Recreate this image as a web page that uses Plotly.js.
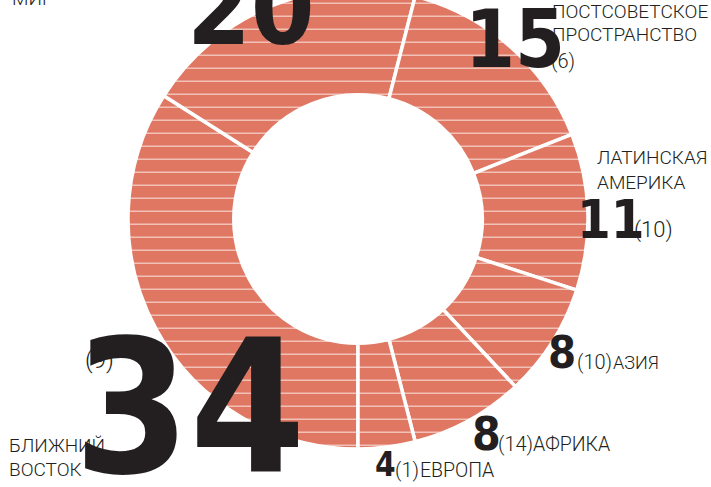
<!DOCTYPE html>
<html><head><meta charset="utf-8">
<script src="https://cdn.plot.ly/plotly-3.0.1.min.js"></script>
<style>
html,body{margin:0;padding:0;overflow:hidden;background:#fff;width:711px;height:487px;position:relative}
#chart{position:absolute;left:0;top:-11px;width:711px;height:498px}
</style>
</head><body><div id="chart"></div>
<script>
// ---- data ----
const regions = ['БЛИЖНИЙ ВОСТОК', 'МИР', 'ПОСТСОВЕТСКОЕ ПРОСТРАНСТВО', 'ЛАТИНСКАЯ АМЕРИКА', 'АЗИЯ', 'АФРИКА', 'ЕВРОПА'];
const shares = [34, 20, 15, 11, 8, 8, 4];
const previous = [9, null, 6, 10, 10, 14, 1];
const labelLines = [['БЛИЖНИЙ', 'ВОСТОК'], ['МИР'], ['ПОСТСОВЕТСКОЕ', 'ПРОСТРАНСТВО'], ['ЛАТИНСКАЯ', 'АМЕРИКА'], ['АЗИЯ'], ['АФРИКА'], ['ЕВРОПА']];

// ---- layout / placement (reference pixel coords) ----
const W = 711, H = 498, OFF = 11;
const NARROW = '"Liberation Sans Narrow", "DejaVu Sans Condensed", sans-serif';
const LIGHT = 'Roboto, "Noto Sans", sans-serif';
const INK = '#231f20';
const place = [
  {num: [190, 478, 185], par: [85, 369, 24], lab: [[9, 453], [9, 477]], ls: 19},
  {num: [251, 47, 102], par: null, lab: [[12, 6]], ls: 19},
  {num: [515, 70, 80], par: [551, 69, 20], lab: [[552, 19], [552, 42]], ls: 19},
  {num: [611, 241, 54], par: [634, 239, 22], lab: [[597, 165], [597, 190]], ls: 19},
  {num: [562, 370, 45], par: [577, 370, 20], lab: [[613, 370]], ls: 18},
  {num: [486, 452, 46], par: [498, 452, 20], lab: [[533, 452]], ls: 19.5},
  {num: [385, 478, 33], par: [395, 478, 20], lab: [[420, 478]], ls: 19.5}
];

function ann(text, x, baseY, size, family, weight, anchor) {
  const desc = family === NARROW ? 0.212 : 0.244;
  const yb = baseY + desc * size + 1;
  return {
    text: text, xref: 'paper', yref: 'paper', showarrow: false,
    x: (anchor === 'left' ? x - 1 - 0.04 * size : x) / W,
    y: 1 - (yb + OFF) / H,
    xanchor: anchor, yanchor: 'bottom', align: anchor === 'left' ? 'left' : 'center',
    font: {family: family, size: size, color: INK, weight: weight}
  };
}

const annotations = [];
regions.forEach((r, i) => {
  const p = place[i];
  annotations.push(ann(String(shares[i]), p.num[0], p.num[1], p.num[2], NARROW, 700, 'center'));
  if (p.par && previous[i] !== null) {
    annotations.push(ann('(' + previous[i] + ')', p.par[0], p.par[1], p.par[2], LIGHT, 300, 'left'));
  }
  labelLines[i].forEach((t, k) => {
    annotations.push(ann(t, p.lab[k][0], p.lab[k][1], p.ls, LIGHT, 300, 'left'));
  });
});

// horizontal hatch texture of the ring (white lines vanish on the white background)
const shapes = [];
for (let yy = 3.3; yy < 448; yy += 13) {
  const py = 1 - (yy + OFF) / H;
  shapes.push({type: 'line', xref: 'paper', yref: 'paper', layer: 'above',
    x0: 120 / W, x1: 596 / W, y0: py, y1: py,
    line: {color: 'rgba(255,255,255,0.55)', width: 1.4}});
}

const trace = {
  type: 'pie', labels: regions, values: shares, sort: false,
  direction: 'clockwise', rotation: 180, hole: 0.54,
  textinfo: 'none', hoverinfo: 'skip', showlegend: false,
  domain: {x: [128 / W, 588 / W], y: [1 - 460 / H, 1]},
  marker: {colors: regions.map(() => '#df7762'), line: {color: '#ffffff', width: 3.5}}
};

const layout = {
  width: W, height: H, margin: {l: 0, r: 0, t: 0, b: 0},
  paper_bgcolor: '#ffffff', plot_bgcolor: 'rgba(0,0,0,0)',
  xaxis: {visible: false}, yaxis: {visible: false}, showlegend: false,
  shapes: shapes, annotations: annotations
};

Plotly.newPlot('chart', [trace], layout, {displayModeBar: false, staticPlot: true});
</script>
</body></html>
